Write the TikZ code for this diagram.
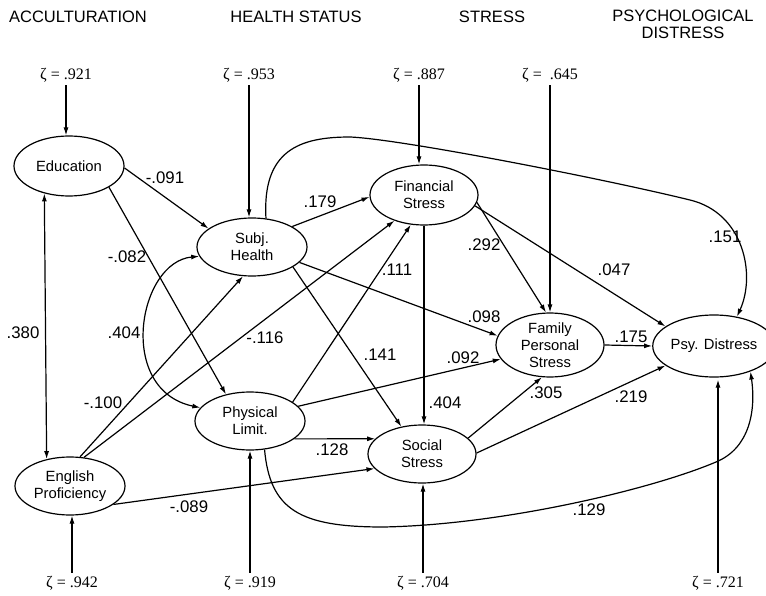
\documentclass[tikz,border=0pt]{standalone}
\usepackage{fontspec}
\setmainfont{Liberation Sans}
\newfontfamily\zfont{Liberation Serif}
\usetikzlibrary{shapes.geometric,arrows.meta}
\begin{document}
\begin{tikzpicture}[x=1pt,y=-1pt,
  lv/.style={ellipse,draw,line width=1.2pt,inner sep=0pt,align=center,font=\fontsize{14.8}{17}\selectfont},
  hd/.style={font=\fontsize{16.5}{17}\selectfont,align=center,inner sep=0pt},
  cf/.style={font=\fontsize{16.8}{16}\selectfont,inner sep=0pt},
  zt/.style={font=\zfont\fontsize{16}{16}\selectfont,inner sep=3pt},
  arr/.style={line width=1.2pt,-{Latex[length=8pt,width=5pt]}},
  darr/.style={line width=1.2pt,{Latex[length=8pt,width=5pt]}-{Latex[length=8pt,width=5pt]}},
]
\useasboundingbox (0,0) rectangle (766,596);

% headers
\node[hd] (h1) at (78,17) {ACCULTURATION};
\node[hd] (h2) at (296,17) {HEALTH STATUS};
\node[hd] (h3) at (492,17) {STRESS};
\node[hd] (h4) at (683,24) {PSYCHOLOGICAL\\DISTRESS};

% latent variables
\node[lv,minimum width=110pt,minimum height=60pt] (edu) at (69,166) {Education};
\node[lv,minimum width=110pt,minimum height=58pt] (sh) at (252,247) {Subj.\\Health};
\node[lv,minimum width=108pt,minimum height=60pt] (fs) at (424,195) {Financial\\Stress};
\node[lv,minimum width=110pt,minimum height=58pt] (pl) at (250,421) {Physical\\Limit.};
\node[lv,minimum width=108pt,minimum height=58pt] (ss) at (422,454) {Social\\Stress};
\node[lv,minimum width=108pt,minimum height=64pt,inner ysep=-5pt] (fp) at (550,345) {Family\\Personal\\Stress};
\node[lv,minimum width=100pt,minimum height=62pt] (pd) at (714,346) {Psy. Distress};
\node[lv,minimum width=110pt,minimum height=58pt] (ep) at (70,486) {English\\Proficiency};

% disturbances
\node[zt] (z1) at (66,75) {ζ = .921};
\node[zt] (z2) at (249,75) {ζ = .953};
\node[zt] (z3) at (419,75) {ζ = .887};
\node[zt] (z4) at (550,75) {ζ = \ .645};
\node[zt] (z5) at (72,583) {ζ = .942};
\node[zt] (z6) at (250,583) {ζ = .919};
\node[zt] (z7) at (423,583) {ζ = .704};
\node[zt] (z8) at (718,583) {ζ = .721};

\draw[arr] (z1.south) -- (z1.south |- edu.north);
\draw[arr] (z2.south) -- (z2.south |- sh.north);
\draw[arr] (z3.south) -- (z3.south |- fs.north);
\draw[arr] (z4.south) -- (z4.south |- fp.north);
\draw[arr] (z5.north) -- (z5.north |- ep.south);
\draw[arr] (z6.north) -- (z6.north |- pl.south);
\draw[arr] (z7.north) -- (z7.north |- ss.south);
\draw[arr] (z8.north) -- ([yshift=-2pt]z8.north |- pd.south);

% paths
\draw[darr] (edu.-132) -- (ep.131);
\draw[arr] (edu.-2) -- (sh.157);
\draw[arr] (edu.-28) -- (pl.132);
\draw[darr] (sh.190) .. controls (138,262) and (116,390) .. (pl.165);
\draw[arr] (ep.71) -- (sh.-107);
\draw[arr] (ep.64) -- (fs.-139);
\draw[arr] (sh.27) -- (fs.182);
\draw[arr] (pl.24) -- (fs.-114);
\draw[arr] (sh.-18) -- (fp.170);
\draw[arr] (sh.-26) -- (ss.127);
\draw[arr] (pl.17) -- (fp.196);
\draw[arr] (pl.-22) -- (ss.162);
\draw[arr] (ep.-23) -- (ss.197);
\draw[arr] (fs.south) -- (fs.south |- ss.north);
\draw[arr] (fs.-8) -- (fp.97);
\draw[arr] (fs.-12) -- (pd.158);
\draw[arr] (fp.east) -- (pd.west);
\draw[arr] (ss.19) -- (fp.-104);
\draw[arr] (ss.1) -- (pd.202);
\draw[arr] (sh.64) .. controls (262,150) and (300,137) .. (350,137)
  .. controls (400,139) and (600,178) .. (690,200)
  .. controls (744,213) and (756,275) .. (pd.52);
\draw[arr] (pl.-63) .. controls (270,510) and (300,527) .. (383,527)
  .. controls (500,525) and (650,490) .. (716,462)
  .. controls (750,448) and (756,410) .. (pd.-35);

% coefficients
\node[cf] (c1) at (165,178) {-.091};
\node[cf] (c2) at (127,257) {-.082};
\node[cf] (c3) at (23,333) {.380};
\node[cf] (c4) at (124,333) {.404};
\node[cf] (c5) at (103,403) {-.100};
\node[cf] (c6) at (265,338) {-.116};
\node[cf] (c7) at (320,202) {.179};
\node[cf] (c8) at (397,270) {.111};
\node[cf] (c9) at (484,317) {.098};
\node[cf] (c10) at (380,355) {.141};
\node[cf] (c11) at (463,358) {.092};
\node[cf] (c12) at (332,450) {.128};
\node[cf] (c13) at (189,507) {-.089};
\node[cf] (c14) at (445,403) {.404};
\node[cf] (c15) at (484,245) {.292};
\node[cf] (c16) at (614,270) {.047};
\node[cf] (c17) at (631,337) {.175};
\node[cf] (c18) at (546,393) {.305};
\node[cf] (c19) at (631,397) {.219};
\node[cf] (c20) at (725,237) {.151};
\node[cf] (c21) at (589,510) {.129};
\end{tikzpicture}
\end{document}
